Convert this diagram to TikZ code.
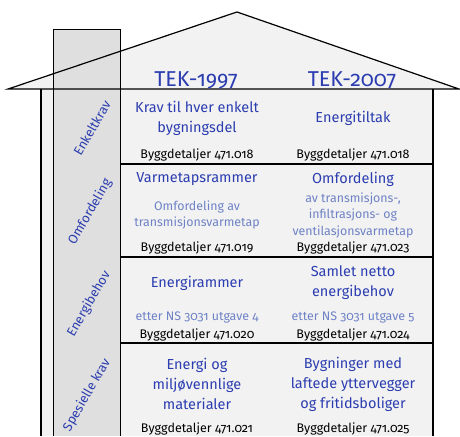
\documentclass[tikz,border=0pt]{standalone}
\usepackage{fontspec}
\setmainfont{Fira Sans}[Numbers=OldStyle]
\usetikzlibrary{positioning}
\definecolor{tekblue}{HTML}{2B3DB0}
\definecolor{tekpale}{HTML}{6E82C6}
\definecolor{housegray}{HTML}{F2F2F2}
\definecolor{colgray}{HTML}{DFDFDF}

\begin{document}
\begin{tikzpicture}[x=1pt,y=-1pt,
  every node/.style={inner sep=0pt,align=center},
  tek/.style={text=tekblue,font=\fontsize{21.5}{23}\selectfont,anchor=base},
  head/.style={text=tekblue,font=\fontsize{14.5}{20}\selectfont},
  sub/.style={text=tekpale,font=\fontsize{12.4}{16.5}\selectfont},
  ref/.style={text=black,font=\fontsize{12.5}{13}\selectfont},
  side/.style={text=tekblue,font=\fontsize{13}{14}\selectfont,rotate=60}]
  \useasboundingbox (0,0) rectangle (460,436);
  \coordinate (eaveL) at (8,89);
  \coordinate (apex) at (237,12);
  \coordinate (eaveR) at (459,89);
  \coordinate (wallL) at (41,89);
  \coordinate (wallR) at (433,89);
  \coordinate (chimL) at (53,29);
  \coordinate (chimR) at (120,29);
  \fill[housegray] (eaveL)--(apex)--(eaveR)--cycle;
  \fill[housegray] (wallL) rectangle (433,436);
  \fill[colgray] (chimL) rectangle (120,436);
  \draw[line width=0.8pt] (53,436)--(chimL)--(chimR)--(120,436);
  \draw[line width=1.2pt] (eaveL)--(apex)--(eaveR)--cycle;
  \draw[line width=1.4pt] (wallL)--(41,436);
  \draw[line width=1.4pt] (wallR)--(433,436);
  \foreach \y in {164,257,343}
    \draw[line width=1.4pt] (120,\y)--(433,\y);

  \node[tek] (t97) at (196,86) {TEK-1997};
  \node[tek] (t07) at (352,86) {TEK-2007};

  \node[side] (enkelt) at (92,128) {Enkeltkrav};
  \node[side] (omford) at (90,212) {Omfordeling};
  \node[side] (energi) at (89,304) {Energibehov};
  \node[side] (spes) at (87,395) {Spesielle krav};

  \node[head] (h11) at (197,118) {Krav til hver enkelt\\bygningsdel};
  \node[head] (h12) at (353,118) {Energitiltak};
  \node[ref] (r11) at (197,155) {Byggdetaljer 471.018};
  \node[ref] (r12) at (353,155) {Byggdetaljer 471.018};

  \node[head] (h21) at (197,179) {Varmetapsrammer};
  \node[head] (h22) at (353,179) {Omfordeling};
  \node[sub] (s21) at (197,215) {Omfordeling av\\transmisjonsvarmetap};
  \node[sub] (s22) at (353,215) {av transmisjons-,\\infiltrasjons- og\\ventilasjonsvarmetap};
  \node[ref] (r21) at (197,248) {Byggdetaljer 471.019};
  \node[ref] (r22) at (353,248) {Byggdetaljer 471.023};

  \node[head] (h31) at (197,283) {Energirammer};
  \node[head] (h32) at (353,283) {Samlet netto\\energibehov};
  \node[sub] (s31) at (197,317) {etter NS 3031 utgave 4};
  \node[sub] (s32) at (353,317) {etter NS 3031 utgave 5};
  \node[ref] (r31) at (197,335) {Byggdetaljer 471.020};
  \node[ref] (r32) at (353,335) {Byggdetaljer 471.024};

  \node[head] (h41) at (197,384) {Energi og\\miljøvennlige\\materialer};
  \node[head] (h42) at (353,384) {Bygninger med\\laftede yttervegger\\og fritidsboliger};
  \node[ref] (r41) at (197,429) {Byggdetaljer 471.021};
  \node[ref] (r42) at (353,429) {Byggdetaljer 471.025};
\end{tikzpicture}
\end{document}
